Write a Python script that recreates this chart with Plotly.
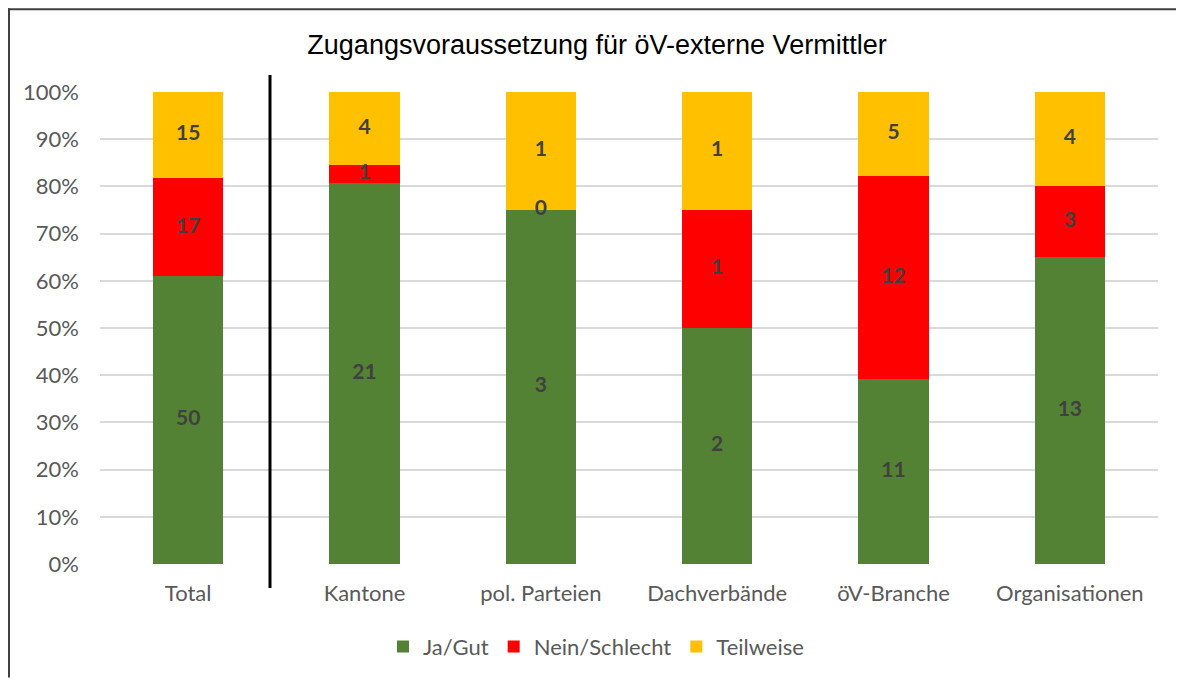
import plotly.graph_objects as go

categories = ["Total", "Kantone", "pol. Parteien", "Dachverbände", "öV-Branche", "Organisationen"]
ja_gut = [50, 21, 3, 2, 11, 13]
nein_schlecht = [17, 1, 0, 1, 12, 3]
teilweise = [15, 4, 1, 1, 5, 4]
series_names = ["Ja/Gut", "Nein/Schlecht", "Teilweise"]
series_colors = ["#548235", "#FF0000", "#FFC000"]
y_ticks = [0, 10, 20, 30, 40, 50, 60, 70, 80, 90, 100]
y_tick_labels = [f"{v}%" for v in y_ticks]

W, H = 1176, 672
L, R, T, B = 92, 26, 84, 114
pw, ph = W - L - R, H - T - B

def px_x(x):
    return (x - L) / pw

def px_y(y):
    return (H - B - y) / ph

all_series = [ja_gut, nein_schlecht, teilweise]
totals = [sum(v) for v in zip(*all_series)]

fig = go.Figure()
for name, vals, col in zip(series_names, all_series, series_colors):
    fig.add_trace(go.Bar(
        x=categories, y=vals, name=name,
        marker=dict(color=col, line=dict(width=0)),
        textposition="none",
        hoverinfo="skip",
    ))

# data labels centred in each segment
base = [0.0] * len(categories)
for vals in all_series:
    pct = [100.0 * v / t for v, t in zip(vals, totals)]
    mids = [b + p / 2 for b, p in zip(base, pct)]
    fig.add_trace(go.Scatter(
        x=categories, y=mids, mode="text",
        text=[str(v) for v in vals], textposition="middle center",
        textfont=dict(family="Lato", size=21, color="#404040", weight="bold"),
        showlegend=False, hoverinfo="skip", cliponaxis=False,
    ))
    base = [b + p for b, p in zip(base, pct)]

fig.update_layout(
    width=W, height=H,
    barmode="stack", barnorm="percent", bargap=0.6,
    margin=dict(l=L, r=R, t=T, b=B),
    paper_bgcolor="white", plot_bgcolor="white",
    font=dict(family="Lato", size=22, color="#595959"),
    title=dict(text="Zugangsvoraussetzung für öV-externe Vermittler",
               x=589 / W, xanchor="center", xref="container",
               y=1 - 37 / H, yanchor="middle", yref="container",
               font=dict(family="Liberation Sans", size=27, color="black")),
    legend=dict(orientation="h", x=px_x(588), xanchor="center",
                y=px_y(641), yanchor="middle",
                font=dict(family="Lato", size=22, color="#595959"),
                itemwidth=30, traceorder="normal"),
    xaxis=dict(showgrid=False, showline=False, zeroline=False, ticks="",
               ticklabelstandoff=14, tickfont=dict(family="Lato", size=22, color="#595959")),
    yaxis=dict(range=[0, 100], tickvals=y_ticks, ticktext=y_tick_labels,
               showgrid=True, gridcolor="#D9D9D9", gridwidth=2,
               showline=False, zeroline=False, ticks="",
               ticklabelstandoff=20, tickfont=dict(family="Lato", size=22, color="#595959")),
    shapes=[
        dict(type="line", xref="paper", yref="paper",
             x0=px_x(262), x1=px_x(262), y0=px_y(67), y1=px_y(582),
             line=dict(color="black", width=3)),
        dict(type="line", xref="paper", yref="paper",
             x0=px_x(0), x1=px_x(W), y0=px_y(1), y1=px_y(1),
             line=dict(color="#404040", width=2)),
        dict(type="line", xref="paper", yref="paper",
             x0=px_x(1), x1=px_x(1), y0=px_y(0), y1=px_y(H),
             line=dict(color="#404040", width=2)),
    ],
)

fig.write_html("out.html")
